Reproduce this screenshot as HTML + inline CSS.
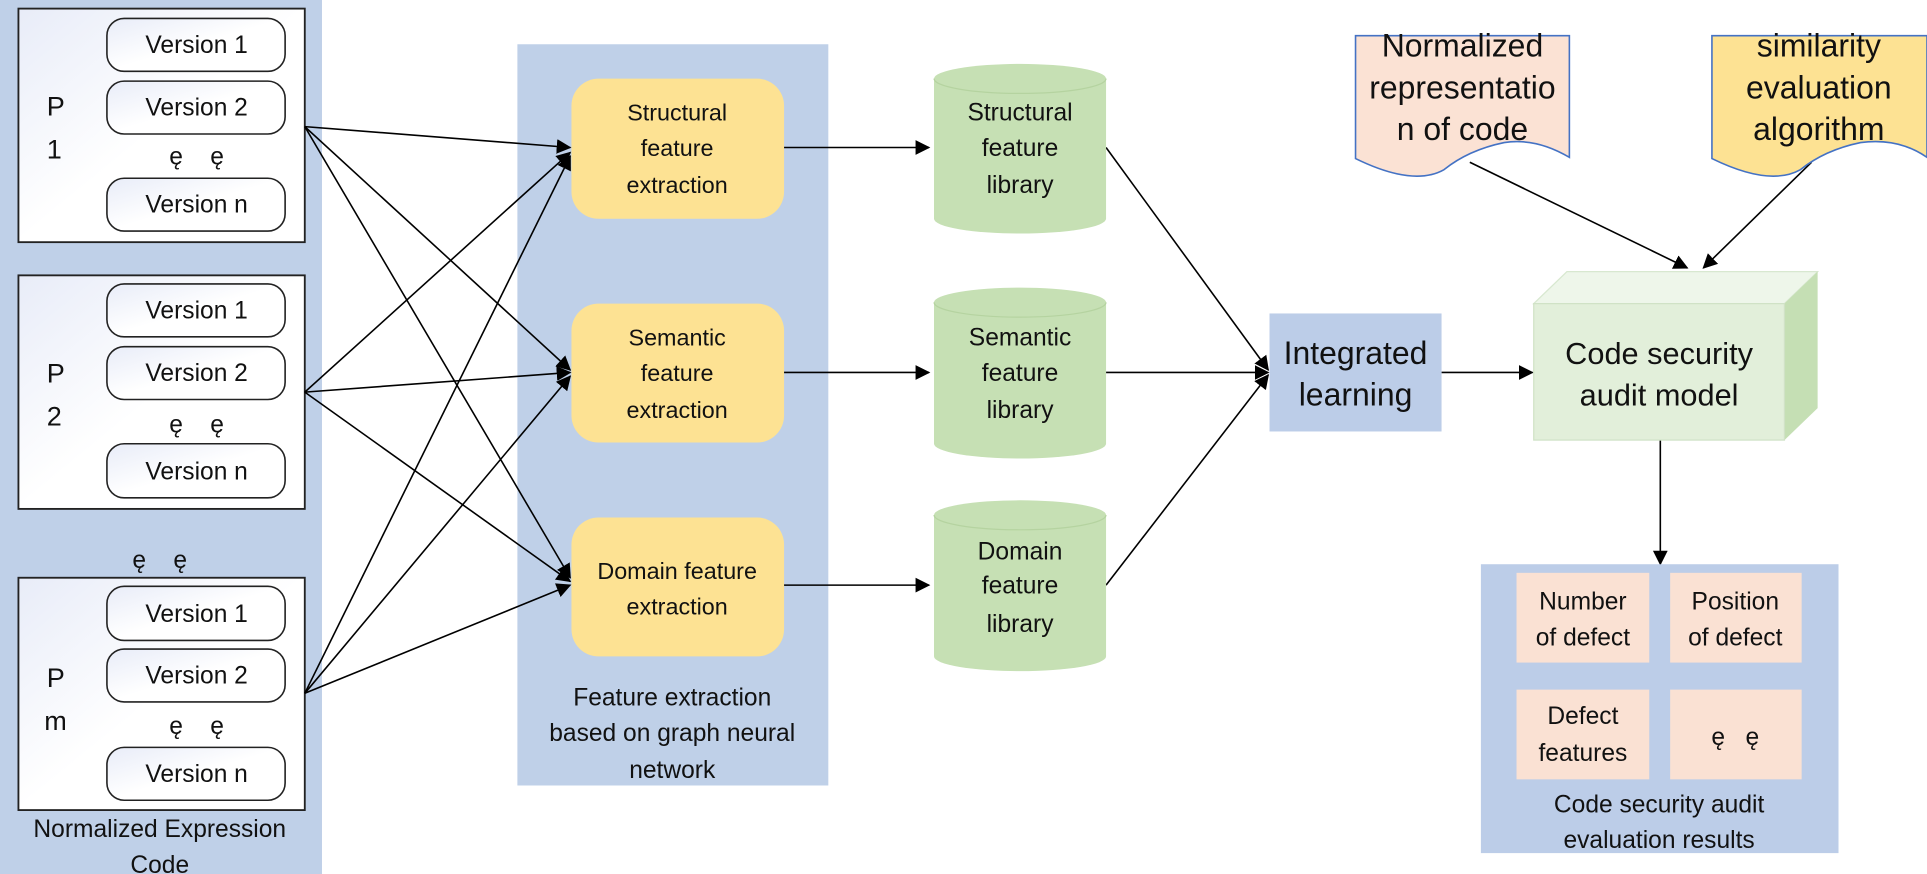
<!DOCTYPE html>
<html><head><meta charset="utf-8"><style>
html,body{margin:0;padding:0;background:#fff;}
svg{display:block;}
text{font-family:"Liberation Sans",sans-serif;fill:#111;}
</style></head><body>
<svg width="1927" height="874" viewBox="0 0 1568 711" preserveAspectRatio="none" xmlns="http://www.w3.org/2000/svg">
<defs>
<marker id="a" markerWidth="12" markerHeight="12" refX="11" refY="6" orient="auto" markerUnits="userSpaceOnUse"><path d="M0,0 L12,6 L0,12 z" fill="#000"/></marker>
<linearGradient id="g" x1="0" y1="0" x2="1" y2="1"><stop offset="0" stop-color="#e8ecf8"/><stop offset="0.5" stop-color="#fff"/></linearGradient>
</defs>
<!-- left panel -->
<rect x="0" y="0" width="262" height="711" fill="#bfd0e8"/>
<g stroke="#222" stroke-width="1.5" fill="url(#g)">
<rect x="15" y="7" width="233" height="190"/>
<rect x="15" y="224" width="233" height="190"/>
<rect x="15" y="470" width="233" height="189"/>
</g>
<g stroke="#222" stroke-width="1.3" fill="url(#g)">
<rect x="87" y="15" width="145" height="43" rx="14"/>
<rect x="87" y="66" width="145" height="43" rx="14"/>
<rect x="87" y="145" width="145" height="43" rx="14"/>
<rect x="87" y="231" width="145" height="43" rx="14"/>
<rect x="87" y="282" width="145" height="43" rx="14"/>
<rect x="87" y="361" width="145" height="44" rx="14"/>
<rect x="87" y="477" width="145" height="44" rx="14"/>
<rect x="87" y="528" width="145" height="43" rx="14"/>
<rect x="87" y="608" width="145" height="43" rx="14"/>
</g>
<g font-size="20" text-anchor="middle">
<text x="160" y="43">Version 1</text><text x="160" y="94">Version 2</text><text x="160" y="173">Version n</text>
<text x="160" y="259">Version 1</text><text x="160" y="310">Version 2</text><text x="160" y="390">Version n</text>
<text x="160" y="506">Version 1</text><text x="160" y="556">Version 2</text><text x="160" y="636">Version n</text>
<text x="160" y="134">ę&#160;&#160;&#160;&#160;ę</text><text x="160" y="352">ę&#160;&#160;&#160;&#160;ę</text><text x="160" y="597">ę&#160;&#160;&#160;&#160;ę</text>
<text x="130" y="462">ę&#160;&#160;&#160;&#160;ę</text>
</g>
<g font-size="22">
<text x="38" y="94">P</text><text x="38" y="129">1</text>
<text x="38" y="311">P</text><text x="38" y="346">2</text>
<text x="38" y="559">P</text><text x="36" y="594">m</text>
</g>
<g font-size="20" text-anchor="middle"><text x="130" y="681">Normalized Expression</text><text x="130" y="710">Code</text></g>
<!-- middle panel -->
<rect x="421" y="36" width="253" height="603" fill="#bfd0e8"/>
<g fill="#fde293">
<rect x="465" y="64" width="173" height="114" rx="22"/>
<rect x="465" y="247" width="173" height="113" rx="22"/>
<rect x="465" y="421" width="173" height="113" rx="22"/>
</g>
<g font-size="19" text-anchor="middle">
<text x="551" y="98">Structural</text><text x="551" y="127">feature</text><text x="551" y="157">extraction</text>
<text x="551" y="281">Semantic</text><text x="551" y="310">feature</text><text x="551" y="340">extraction</text>
<text x="551" y="471">Domain feature</text><text x="551" y="500">extraction</text>
</g>
<g font-size="20" text-anchor="middle">
<text x="547" y="574">Feature extraction</text><text x="547" y="603">based on graph neural</text><text x="547" y="633">network</text>
</g>
<!-- connectors -->
<g stroke="#000" stroke-width="1.3" fill="none" marker-end="url(#a)">
<line x1="248" y1="103" x2="464" y2="120"/>
<line x1="248" y1="103" x2="464" y2="301"/>
<line x1="248" y1="103" x2="464" y2="470"/>
<line x1="248" y1="319" x2="464" y2="124"/>
<line x1="248" y1="319" x2="464" y2="303"/>
<line x1="248" y1="319" x2="464" y2="473"/>
<line x1="248" y1="564" x2="464" y2="127"/>
<line x1="248" y1="564" x2="464" y2="306"/>
<line x1="248" y1="564" x2="464" y2="476"/>
<line x1="638" y1="120" x2="756" y2="120"/>
<line x1="638" y1="303" x2="756" y2="303"/>
<line x1="638" y1="476" x2="756" y2="476"/>
<line x1="900" y1="120" x2="1032" y2="301"/>
<line x1="900" y1="303" x2="1032" y2="303"/>
<line x1="900" y1="476" x2="1032" y2="305"/>
<line x1="1173" y1="303" x2="1247" y2="303"/>
<line x1="1351" y1="358" x2="1351" y2="459"/>
<line x1="1196" y1="132" x2="1373" y2="218"/>
<line x1="1474" y1="132" x2="1386" y2="218"/>
</g>
<!-- cylinders -->
<g fill="#c6e0b4">
<path d="M760,64 A70,12 0 0 1 900,64 L900,178 A70,12 0 0 1 760,178 Z"/>
<path d="M760,246 A70,12 0 0 1 900,246 L900,361 A70,12 0 0 1 760,361 Z"/>
<path d="M760,419 A70,12 0 0 1 900,419 L900,534 A70,12 0 0 1 760,534 Z"/>
</g>
<g fill="none" stroke="#b5d3a0" stroke-width="1"><path d="M760,64 A70,12 0 0 0 900,64"/><path d="M760,246 A70,12 0 0 0 900,246"/><path d="M760,419 A70,12 0 0 0 900,419"/></g>
<g font-size="20" text-anchor="middle">
<text x="830" y="98">Structural</text><text x="830" y="127">feature</text><text x="830" y="157">library</text>
<text x="830" y="281">Semantic</text><text x="830" y="310">feature</text><text x="830" y="340">library</text>
<text x="830" y="455">Domain</text><text x="830" y="483">feature</text><text x="830" y="514">library</text>
</g>
<!-- integrated -->
<rect x="1033" y="255" width="140" height="96" fill="#bccde8"/>
<g font-size="26" text-anchor="middle"><text x="1103" y="296">Integrated</text><text x="1103" y="330">learning</text></g>
<!-- model -->
<polygon points="1248,247 1275,221 1479,221 1452,247" fill="#eef6ea" stroke="#d8e8d0"/>
<polygon points="1452,247 1479,221 1479,332 1452,358" fill="#c5dfb4"/>
<rect x="1248" y="247" width="204" height="111" fill="#e2efda" stroke="#d0e2c6"/>
<g font-size="25" text-anchor="middle"><text x="1350" y="296">Code security</text><text x="1350" y="330">audit model</text></g>
<!-- results -->
<rect x="1205" y="459" width="291" height="235" fill="#bccde8"/>
<g fill="#fae1d3">
<rect x="1234" y="466" width="108" height="73"/><rect x="1359" y="466" width="107" height="73"/>
<rect x="1234" y="561" width="108" height="73"/><rect x="1359" y="561" width="107" height="73"/>
</g>
<g font-size="20" text-anchor="middle">
<text x="1288" y="496">Number</text><text x="1288" y="525">of defect</text>
<text x="1412" y="496">Position</text><text x="1412" y="525">of defect</text>
<text x="1288" y="589">Defect</text><text x="1288" y="619">features</text>
<text x="1412" y="606">ę&#160;&#160;&#160;ę</text>
<text x="1350" y="661">Code security audit</text><text x="1350" y="690">evaluation results</text>
</g>
<!-- documents -->
<path d="M1103,29 L1277,29 L1277,128 Q1250,112 1224,116 Q1195,122 1175,138 Q1150,152 1103,129 Z" fill="#fbe2d4" stroke="#4472c4" stroke-width="1.3"/>
<path d="M1393,29 L1568,29 L1568,128 Q1545,112 1514,116 Q1485,122 1465,138 Q1440,152 1393,129 Z" fill="#fde293" stroke="#4472c4" stroke-width="1.3"/>
<g font-size="26" text-anchor="middle">
<text x="1190" y="46">Normalized</text><text x="1190" y="80">representatio</text><text x="1190" y="114">n of code</text>
<text x="1480" y="46">similarity</text><text x="1480" y="80">evaluation</text><text x="1480" y="114">algorithm</text>
</g>
</svg>
</body></html>
